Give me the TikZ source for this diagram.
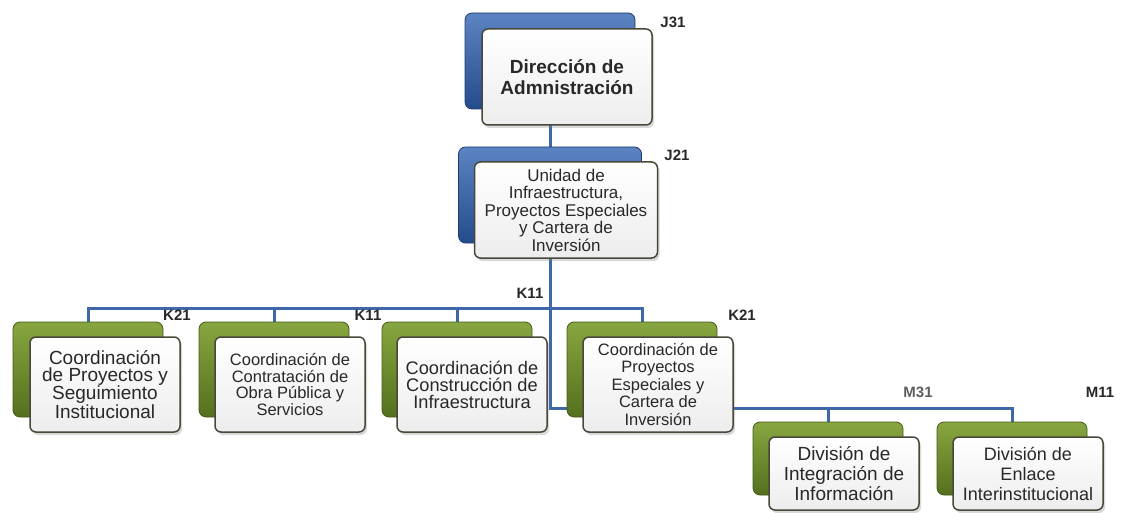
\documentclass[tikz,border=0pt]{standalone}
\usepackage{fontspec}
\setmainfont{Liberation Sans}
\usetikzlibrary{backgrounds,shadows}

\definecolor{linkblue}{RGB}{62,104,168}
\definecolor{blueTop}{RGB}{92,132,194}
\definecolor{blueBot}{RGB}{36,76,140}
\definecolor{greenTop}{RGB}{136,166,64}
\definecolor{greenBot}{RGB}{84,112,30}
\definecolor{frameGray}{RGB}{72,72,58}
\definecolor{txtGray}{RGB}{40,40,40}

\begin{document}
\begin{tikzpicture}[x=1pt, y=-1pt,
  bluebox/.style={rounded corners=7pt, inner sep=0pt, top color=blueTop, bottom color=blueBot, draw=blueBot!80!black, line width=0.8pt},
  greenbox/.style={rounded corners=7pt, inner sep=0pt, top color=greenTop, bottom color=greenBot, draw=greenBot!80!black, line width=0.8pt},
  unit/.style={rounded corners=6pt, inner sep=1pt, align=center, draw=frameGray, line width=1.5pt,
    top color=white, bottom color=gray!14, text=txtGray,
    drop shadow={opacity=0.3, shadow xshift=2pt, shadow yshift=-3pt}},
  code/.style={font=\bfseries\fontsize{15}{17}\selectfont, text=txtGray, inner sep=0pt},
  link/.style={draw=linkblue, line width=3pt}]
\useasboundingbox (0,0) rectangle (1126,513);

% top levels
\node[bluebox, minimum width=170pt, minimum height=96pt] (dirB) at (550,61) {};
\node[unit, minimum width=170pt, minimum height=96pt, font=\bfseries\fontsize{19}{21}\selectfont] (dir) at (567,77) {Dirección de\\Admnistración};
\node[bluebox, minimum width=183pt, minimum height=96pt] (uniB) at (550,195) {};
\node[unit, minimum width=183pt, minimum height=96pt, font=\fontsize{17}{17.5}\selectfont] (uni) at (566,210) {Unidad de\\Infraestructura,\\Proyectos Especiales\\y Cartera de\\Inversión};

% coordinations
\node[greenbox, minimum width=150pt, minimum height=95pt] (k1B) at (88,369.5) {};
\node[unit, minimum width=150pt, minimum height=95pt, font=\fontsize{19}{17}\selectfont] (k1) at (105,384.5) {Coordinación\\de Proyectos y\\Seguimiento\\Institucional};
\node[greenbox, minimum width=150pt, minimum height=95pt] (k2B) at (274,369.5) {};
\node[unit, minimum width=150pt, minimum height=95pt, font=\fontsize{16.5}{16.7}\selectfont] (k2) at (290,384.5) {Coordinación de\\Contratación de\\Obra Pública y\\Servicios};
\node[greenbox, minimum width=150pt, minimum height=95pt] (k3B) at (457,369.5) {};
\node[unit, minimum width=150pt, minimum height=95pt, font=\fontsize{18.2}{17}\selectfont] (k3) at (472,384.5) {Coordinación de\\Construcción de\\Infraestructura};
\node[greenbox, minimum width=150pt, minimum height=95pt] (k4B) at (642,369.5) {};
\node[unit, minimum width=150pt, minimum height=95pt, font=\fontsize{16.5}{17.5}\selectfont] (k4) at (658,384.5) {Coordinación de\\Proyectos\\Especiales y\\Cartera de\\Inversión};

% divisions
\node[greenbox, minimum width=150pt, minimum height=73pt] (m1B) at (828,458.5) {};
\node[unit, minimum width=150pt, minimum height=73pt, font=\fontsize{19}{20}\selectfont] (m1) at (844,473.5) {División de\\Integración de\\Información};
\node[greenbox, minimum width=150pt, minimum height=73pt] (m2B) at (1012,458.5) {};
\node[unit, minimum width=150pt, minimum height=73pt, font=\fontsize{18}{20}\selectfont] (m2) at (1028,473.5) {División de\\Enlace\\Interinstitucional};

% level codes
\node[code] (cJ31) at (673,22) {J31};
\node[code] (cJ21) at (677,155) {J21};
\node[code] (cK11a) at (530,293) {K11};
\node[code] (cK21a) at (177,315) {K21};
\node[code] (cK11b) at (368,315) {K11};
\node[code] (cK21b) at (742,315) {K21};
\node[code, text=txtGray!75] (cM31) at (918,392) {M31};
\node[code] (cM11) at (1100,392) {M11};

\coordinate (kbus) at (550,308);
\coordinate (mbus) at (550,408);

\begin{pgfonlayer}{background}
\draw[link] (dirB.south) -- (uniB.north);
\draw[link] (uniB.south) -- (mbus) -| (m2B.north);
\draw[link] (k1B.north) |- (kbus) -| (k4B.north);
\draw[link] (k2B.north) -- (k2B.north |- kbus);
\draw[link] (k3B.north) -- (k3B.north |- kbus);
\draw[link] (m1B.north) -- (m1B.north |- mbus);
\end{pgfonlayer}
\end{tikzpicture}
\end{document}
